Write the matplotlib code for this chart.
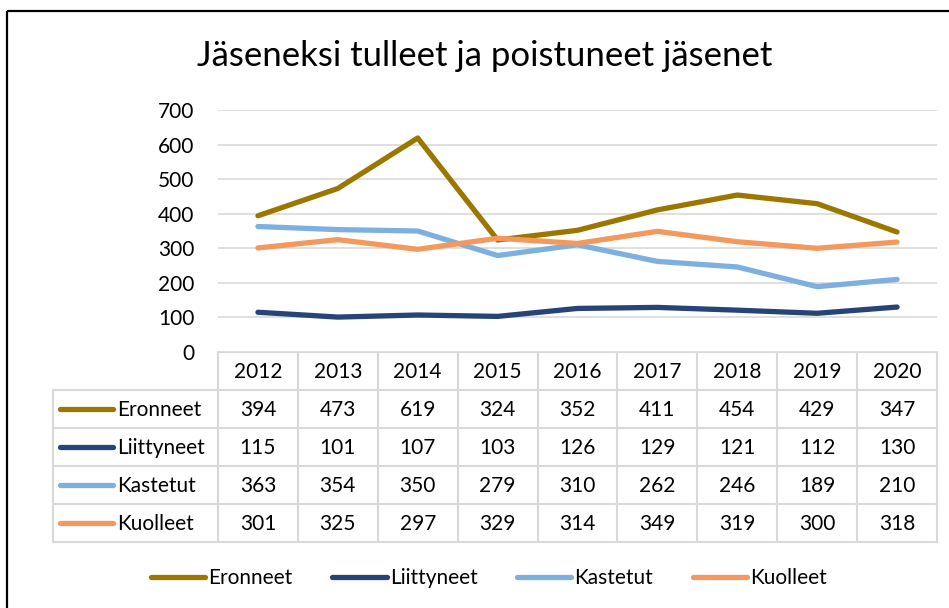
import matplotlib.pyplot as plt
from matplotlib.lines import Line2D
from matplotlib.patches import Rectangle

plt.rcParams['font.family'] = ['Lato', 'DejaVu Sans']

# data
years = ['2012', '2013', '2014', '2015', '2016', '2017', '2018', '2019', '2020']
eronneet = [394, 473, 619, 324, 352, 411, 454, 429, 347]
liittyneet = [115, 101, 107, 103, 126, 129, 121, 112, 130]
kastetut = [363, 354, 350, 279, 310, 262, 246, 189, 210]
kuolleet = [301, 325, 297, 329, 314, 349, 319, 300, 318]
series_names = ['Eronneet', 'Liittyneet', 'Kastetut', 'Kuolleet']
colors = ['#9C7700', '#264478', '#7EB0DF', '#F3995D']
yticks = [0, 100, 200, 300, 400, 500, 600, 700]

W, H = 949, 608
fig = plt.figure(figsize=(W / 100, H / 100), dpi=100)

# pixel layout of plot area / table
x0, x1 = 218, 937
y_top, y_zero = 110, 352
row_h = 38
label_left = 53
fs = 15

ax = fig.add_axes([x0 / W, 1 - y_zero / H, (x1 - x0) / W, (y_zero - y_top) / H])
xs = range(len(years))
all_series = [eronneet, liittyneet, kastetut, kuolleet]
for vals, name, c in zip(all_series, series_names, colors):
    ax.plot(xs, vals, color=c, linewidth=3.8, label=name, solid_capstyle='round', zorder=3)
ax.set_xlim(-0.5, len(years) - 0.5)
ax.set_ylim(0, 700)
ax.set_yticks(yticks)
ax.set_yticklabels([str(t) for t in yticks], fontsize=fs)
ax.tick_params(axis='y', length=0, pad=17)
ax.set_xticks([])
ax.grid(axis='y', color='#D9D9D9', linewidth=1.2)
for s in ax.spines.values():
    s.set_visible(False)

# overlay in pixel coordinates for the data table and frame
ov = fig.add_axes([0, 0, 1, 1], zorder=-1)
ov.set_xlim(0, W)
ov.set_ylim(H, 0)
ov.axis('off')

ov.add_patch(Rectangle((7, 11), W + 20, H + 20, fill=False, edgecolor='black', linewidth=1.6))

fig.text(485 / W, 1 - 56 / H, 'Jäseneksi tulleet ja poistuneet jäsenet', fontsize=25,
         ha='center', va='center')

gcol = '#D9D9D9'
cw = (x1 - x0) / len(years)
n = len(all_series)
tab_bottom = y_zero + row_h * (n + 1)
# horizontal lines
ov.plot([x0, x1], [y_zero, y_zero], color=gcol, lw=1.5)
for r in range(1, n + 2):
    y = y_zero + r * row_h
    ov.plot([label_left, x1], [y, y], color=gcol, lw=1.5)
# vertical lines
for c in range(len(years) + 1):
    x = x0 + c * cw
    ov.plot([x, x], [y_zero, tab_bottom], color=gcol, lw=1.5)
ov.plot([label_left, label_left], [y_zero + row_h, tab_bottom], color=gcol, lw=1.5)

for c, yr in enumerate(years):
    ov.text(x0 + (c + 0.5) * cw, y_zero + row_h / 2 + 1, yr, ha='center', va='center', fontsize=fs)
for r, (vals, name, col) in enumerate(zip(all_series, series_names, colors)):
    yc = y_zero + (r + 1.5) * row_h + 1
    ov.plot([60, 113], [yc - 1, yc - 1], color=col, lw=3.8, solid_capstyle='round')
    ov.text(117, yc, name, ha='left', va='center', fontsize=fs)
    for c, v in enumerate(vals):
        ov.text(x0 + (c + 0.5) * cw, yc, str(v), ha='center', va='center', fontsize=fs)

handles = [Line2D([], [], color=c, lw=3.8, solid_capstyle='round') for c in colors]
fig.legend(handles, series_names, loc='center', bbox_to_anchor=(489 / W, 1 - 578 / H), ncol=4,
           frameon=False, fontsize=fs, handlelength=2.6, handletextpad=0.15, columnspacing=1.9)

fig.savefig('out.png', dpi=100)
